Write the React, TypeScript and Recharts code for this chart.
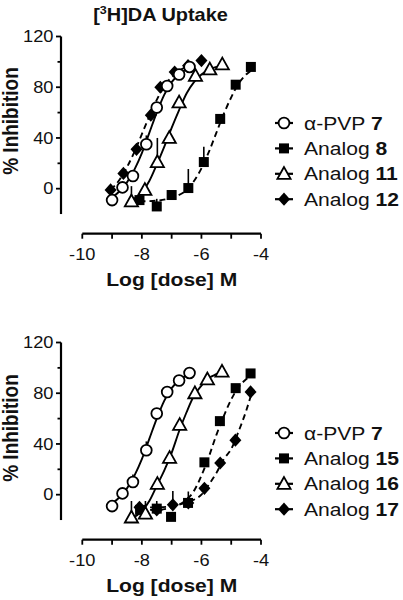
import React from 'react';
import { ComposedChart, Line, Scatter, XAxis, YAxis, ReferenceLine, ErrorBar, Legend, Customized } from 'recharts';

const FONT = '"Liberation Sans", Arial, Helvetica, sans-serif';
const SX = 1.14;
const INK = '#111';

// axes
const xTicks = [-10, -9, -8, -7, -6, -5, -4];
const xTickLabels = ['-10', '', '-8', '', '-6', '', '-4'];
const yTicks = [0, 20, 40, 60, 80, 100, 120];
const yTickLabels = ['0', '', '40', '', '80', '', '120'];

// ---- top panel: measured points ----
const pvp7X = [-9.0, -8.65, -8.3, -7.85, -7.5, -7.15, -6.75, -6.4];
const pvp7Y = [-9, 1, 10, 35, 64, 81, 90, 96];
const pvp7ErrTop = [0, 0, 0, 7, 0, 0, 0, 0];
const pvp7ErrBottom = [0, 0, 6, 7, 0, 0, 0, 0];

const a8X = [-8.08, -7.5, -7.0, -6.44, -5.92, -5.37, -4.85, -4.34];
const a8Y = [-9, -14, -5, 0.5, 21, 55, 82, 96];
const a8Err = [0, 6, 0, 15, 12, 0, 0, 0];

const a11X = [-8.35, -7.9, -7.48, -7.08, -6.75, -6.2, -5.72, -5.3];
const a11Y = [-10, -1, 21, 40, 68, 89, 94, 98];
const a11Err = [12, 0, 19, 0, 0, 0, 0, 0];

const a12X = [-9.05, -8.62, -8.18, -7.7, -7.38, -6.9, -6.45, -6.0];
const a12Y = [-1, 12, 31, 58, 80, 92, 97, 101];
const a12Err = [0, 0, 0, 0, 0, 0, 0, 0];

// ---- bottom panel: measured points ----
const a15X = [-8.06, -7.5, -7.02, -6.45, -5.9, -5.38, -4.85, -4.35];
const a15Y = [-12, -11, -17.5, -6.5, 25.5, 58, 84, 95.6];
const a15Err = [0, 6, 0, 0, 0, 0, 0, 0];

const a16X = [-8.35, -7.88, -7.48, -7.07, -6.73, -6.22, -5.8, -5.31];
const a16Y = [-18, -15, 8.5, 29, 55, 80, 91, 97];
const a16Err = [13, 10, 0, 0, 0, 0, 0, 0];

const a17X = [-8.08, -7.5, -6.96, -6.44, -5.9, -5.37, -4.86, -4.35];
const a17Y = [-10, -12, -8, -6.5, 5, 25, 43, 81];
const a17Err = [0, 0, 11, 9, 0, 0, 0, 0];

// ---- fitted curves ----
const pvp7CurveX = [-9.0, -8.75, -8.5, -8.25, -8.0, -7.75, -7.5, -7.25, -7.0, -6.75, -6.5, -6.38];
const pvp7CurveY = [-7, -2, 5, 15, 28, 44, 60, 74, 84, 90, 94, 95];

const a8CurveX = [-8.08, -7.5, -7.0, -6.5, -6.25, -6.0, -5.75, -5.5, -5.25, -5.0, -4.75, -4.5, -4.34];
const a8CurveY = [-10, -9.5, -7, -1, 6, 16, 29, 44, 59, 72, 83, 90, 93];

const a11CurveX = [-8.35, -8.0, -7.75, -7.5, -7.25, -7.0, -6.75, -6.5, -6.25, -6.0, -5.75, -5.5, -5.3];
const a11CurveY = [-9, -3, 6, 19, 33, 48, 62, 75, 84, 90, 94, 96, 97];

const a12CurveX = [-9.05, -8.75, -8.5, -8.25, -8.0, -7.75, -7.5, -7.25, -7.0, -6.75, -6.5, -6.0];
const a12CurveY = [-1, 7, 17, 29, 43, 57, 70, 81, 88, 93, 96, 99];

const a15CurveX = [-8.06, -7.5, -7.0, -6.5, -6.25, -6.0, -5.75, -5.5, -5.25, -5.0, -4.75, -4.5, -4.34];
const a15CurveY = [-12, -12, -10, -4, 3, 15, 30, 47, 62, 75, 85, 91, 94];

const a16CurveX = [-8.35, -8.0, -7.75, -7.5, -7.25, -7.0, -6.75, -6.5, -6.25, -6.0, -5.75, -5.5, -5.3];
const a16CurveY = [-19, -13, -5, 7, 19, 33, 50, 65, 78, 86, 92, 95, 97];

const a17CurveX = [-8.06, -7.5, -7.0, -6.5, -6.0, -5.75, -5.5, -5.25, -5.0, -4.75, -4.5, -4.34];
const a17CurveY = [-10, -10, -9, -6, 0, 8, 17, 28, 36, 50, 66, 78];

// legends
const topLegendNames = ['\u03b1-PVP ', 'Analog ', 'Analog ', 'Analog '];
const topLegendNums = ['7', '8', '11', '12'];
const bottomLegendNames = ['\u03b1-PVP ', 'Analog ', 'Analog ', 'Analog '];
const bottomLegendNums = ['7', '15', '16', '17'];

type Shape = 'circle' | 'square' | 'triangle' | 'diamond';

const pts = (xs: number[], ys: number[], es?: number[]) =>
  xs.map((x, i) => ({ x, y: ys[i], e: [0, es ? es[i] : 0] }));
const curve = (xs: number[], ys: number[]) => xs.map((x, i) => ({ x, y: ys[i] }));

// layout constants (chart-relative)
const W = 403;
const H = 300;
const PLOT_TOP = 36.5;
const AXIS_Y = 233.7;
const PLOT_LEFT = 61;
const PLOT_RIGHT = 261;
const XMIN = -10.715;
const XMAX = -4;
const YMIN = -35.5;
const YMAX = 120;

function marker(shape: Shape, cx: number, cy: number, key?: string) {
  const sw = 1.8;
  if (shape === 'circle') return <circle key={key} cx={cx} cy={cy} r={5.4} fill="#fff" stroke="#000" strokeWidth={sw} />;
  if (shape === 'square') return <rect key={key} x={cx - 5} y={cy - 5} width={10} height={10} fill="#000" />;
  if (shape === 'triangle')
    return (
      <polygon key={key} points={`${cx},${cy - 6.8} ${cx - 6.6},${cy + 5} ${cx + 6.6},${cy + 5}`} fill="#fff" stroke="#000" strokeWidth={sw} strokeLinejoin="miter" />
    );
  return <polygon key={key} points={`${cx},${cy - 6.6} ${cx + 6},${cy} ${cx},${cy + 6.6} ${cx - 6},${cy}`} fill="#000" />;
}

const shapeFn = (shape: Shape) => (props: any) => {
  const { cx, cy } = props;
  if (cx == null || cy == null) return <g />;
  return marker(shape, cx, cy);
};

const XTick = (props: any) => {
  const { x, payload } = props;
  const i = xTicks.indexOf(payload.value);
  const label = i >= 0 ? xTickLabels[i] : '';
  return (
    <g>
      <line x1={x} x2={x} y1={AXIS_Y} y2={AXIS_Y + 5} stroke="#000" strokeWidth={1.8} />
      {label ? (
        <text transform={`translate(${x},${AXIS_Y + 26.5}) scale(${SX},1)`} textAnchor="middle" fontFamily={FONT} fontSize={16} fill={INK}>
          {label}
        </text>
      ) : null}
    </g>
  );
};

const YTick = (props: any) => {
  const { y, payload } = props;
  const i = yTicks.indexOf(payload.value);
  const label = i >= 0 ? yTickLabels[i] : '';
  return (
    <g>
      <line x1={label ? PLOT_LEFT - 5 : PLOT_LEFT - 3.5} x2={PLOT_LEFT} y1={y} y2={y} stroke="#000" strokeWidth={1.8} />
      {label ? (
        <text transform={`translate(${PLOT_LEFT - 7.5},${y + 5.8}) scale(${SX},1)`} textAnchor="end" fontFamily={FONT} fontSize={16} fill={INK}>
          {label}
        </text>
      ) : null}
    </g>
  );
};

const Titles = ({ showTitle, yTitleY }: { showTitle: boolean; yTitleY: number }) => (
  <g>
    {showTitle ? (
      <text transform={`translate(160.5,21) scale(${SX},1)`} textAnchor="middle" fontFamily={FONT} fontSize={17.5} fontWeight="bold" fill={INK}>
        [<tspan fontSize={11} dy={-7}>3</tspan>
        <tspan dy={7}>H]DA Uptake</tspan>
      </text>
    ) : null}
    <text transform={`translate(18,${yTitleY}) scale(${SX},1) rotate(-90)`} textAnchor="middle" fontFamily={FONT} fontSize={19} fontWeight="bold" fill={INK}>
      % Inhibition
    </text>
    <text transform={`translate(171.7,286) scale(${SX},1)`} textAnchor="middle" fontFamily={FONT} fontSize={18.5} fontWeight="bold" fill={INK}>
      Log [dose] M
    </text>
  </g>
);

const LEG_LEFT = 268;
const makeLegend = (names: string[], nums: string[], shapes: Shape[], firstY: number) => () => {
  const top = firstY - 14;
  return (
    <svg width={135} height={110} style={{ display: 'block', overflow: 'visible' }}>
      {names.map((n, i) => {
        const cy = 14 + i * 25.4;
        return (
          <g key={i}>
            <line x1={275 - LEG_LEFT} x2={293 - LEG_LEFT} y1={cy} y2={cy} stroke="#000" strokeWidth={2.2} />
            {marker(shapes[i], 284 - LEG_LEFT, cy)}
            <text transform={`translate(${304 - LEG_LEFT},${cy + 6.6}) scale(${SX},1)`} fontFamily={FONT} fontSize={18.5} fill={INK}>
              {n}
              <tspan fontWeight="bold">{nums[i]}</tspan>
            </text>
          </g>
        );
      })}
    </svg>
  );
};

interface Series {
  name: string;
  shape: Shape;
  dashed: boolean;
  points: { x: number; y: number; e: number[] }[];
  curve: { x: number; y: number }[];
}

const Panel = ({ series, order, legendNames, legendNums, legendFirstY, showTitle, yTitleY }: any) => {
  const s: Series[] = series;
  const LegendContent = makeLegend(legendNames, legendNums, s.map((q) => q.shape), legendFirstY);
  return (
    <ComposedChart
      width={W}
      height={H}
      margin={{ top: PLOT_TOP, right: W - PLOT_RIGHT, bottom: H - AXIS_Y - 30, left: 0 }}
    >
      <XAxis
        type="number"
        dataKey="x"
        domain={[XMIN, XMAX]}
        allowDataOverflow
        ticks={xTicks}
        interval={0}
        height={30}
        axisLine={false}
        tickLine={false}
        tick={<XTick />}
      />
      <YAxis
        type="number"
        dataKey="y"
        domain={[YMIN, YMAX]}
        allowDataOverflow
        ticks={yTicks}
        interval={0}
        width={PLOT_LEFT}
        axisLine={false}
        tickLine={false}
        tick={<YTick />}
      />
      <ReferenceLine segment={[{ x: XMIN, y: -20 }, { x: XMIN, y: 120 }]} stroke="#000" strokeWidth={2.2} ifOverflow="visible" />
      <ReferenceLine segment={[{ x: -10, y: YMIN }, { x: -4, y: YMIN }]} stroke="#000" strokeWidth={2.2} ifOverflow="visible" />
      {s.map((q) => (
        <Line
          key={'l' + q.name}
          data={q.curve}
          dataKey="y"
          type="monotone"
          stroke="#000"
          strokeWidth={1.9}
          strokeDasharray={q.dashed ? '6 4' : undefined}
          dot={false}
          activeDot={false}
          legendType="none"
          isAnimationActive={false}
        />
      ))}
      {order.map((idx: number) => {
        const q = s[idx];
        return (
          <Scatter key={'s' + q.name} name={q.name} data={q.points} dataKey="y" shape={shapeFn(q.shape)} isAnimationActive={false}>
            <ErrorBar dataKey="e" direction="y" width={0} stroke="#000" strokeWidth={1.6} />
          </Scatter>
        );
      })}
      <Legend
        layout="horizontal"
        verticalAlign="middle"
        align="center"
        content={<LegendContent />}
        wrapperStyle={{ position: 'absolute', left: LEG_LEFT, top: legendFirstY - 14, width: 135, height: 110 }}
      />
      <Customized component={<Titles showTitle={showTitle} yTitleY={yTitleY} />} />
    </ComposedChart>
  );
};

const topSeries: Series[] = [
  { name: '\u03b1-PVP 7', shape: 'circle', dashed: false, points: pts(pvp7X, pvp7Y, pvp7ErrTop), curve: curve(pvp7CurveX, pvp7CurveY) },
  { name: 'Analog 8', shape: 'square', dashed: true, points: pts(a8X, a8Y, a8Err), curve: curve(a8CurveX, a8CurveY) },
  { name: 'Analog 11', shape: 'triangle', dashed: false, points: pts(a11X, a11Y, a11Err), curve: curve(a11CurveX, a11CurveY) },
  { name: 'Analog 12', shape: 'diamond', dashed: true, points: pts(a12X, a12Y, a12Err), curve: curve(a12CurveX, a12CurveY) },
];

const bottomSeries: Series[] = [
  { name: '\u03b1-PVP 7', shape: 'circle', dashed: false, points: pts(pvp7X, pvp7Y, pvp7ErrBottom), curve: curve(pvp7CurveX, pvp7CurveY) },
  { name: 'Analog 15', shape: 'square', dashed: true, points: pts(a15X, a15Y, a15Err), curve: curve(a15CurveX, a15CurveY) },
  { name: 'Analog 16', shape: 'triangle', dashed: false, points: pts(a16X, a16Y, a16Err), curve: curve(a16CurveX, a16CurveY) },
  { name: 'Analog 17', shape: 'diamond', dashed: true, points: pts(a17X, a17Y, a17Err), curve: curve(a17CurveX, a17CurveY) },
];

export default function App() {
  return (
    <div style={{ position: 'absolute', left: 0, top: 0, width: 403, height: 600, background: '#fff', overflow: 'hidden' }}>
      <div style={{ position: 'absolute', left: 0, top: 0 }}>
        <Panel series={topSeries} order={[1, 3, 2, 0]} legendNames={topLegendNames} legendNums={topLegendNums} legendFirstY={122.7} showTitle yTitleY={121} />
      </div>
      <div style={{ position: 'absolute', left: 0, top: 306 }}>
        <Panel series={bottomSeries} order={[1, 3, 2, 0]} legendNames={bottomLegendNames} legendNums={bottomLegendNums} legendFirstY={126.7} showTitle={false} yTitleY={122} />
      </div>
    </div>
  );
}
